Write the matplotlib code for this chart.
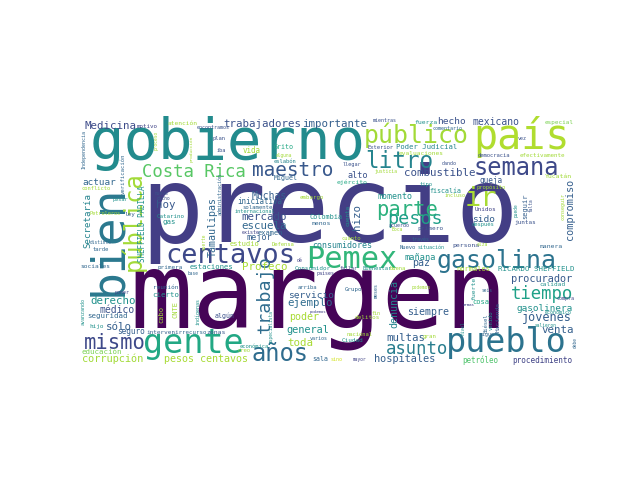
import matplotlib
matplotlib.use("Agg")
import matplotlib.pyplot as plt

# word cloud of a text corpus: words and their relative weights (largest = 1)
words = [
    "precio", "margen", "gobierno", "país", "bien", "pueblo", "gente", "público",
    "gasolina", "Pemex", "centavos", "años", "semana", "pública", "litro", "ir",
    "parte", "maestro", "mismo", "pesos", "trabajo", "Costa Rica", "asunto", "tiempo",
    "jóvenes", "Medicina", "hoy", "importante", "sólo", "toda", "combustible", "mercado",
    "escuela", "multas", "venta", "hizo", "trabajadores", "derecho", "ejemplo", "Profeco",
    "procurador", "hospitales", "corrupción", "compromiso", "general", "paz", "denuncia",
    "Tamaulipas", "poder", "siempre", "pesos centavos", "mexicano", "médico", "Muchas",
    "sido", "servicio", "hecho", "gasolinera", "Secretaría", "actuar", "mañana", "alto",
    "mejor", "momento", "consumidores", "queja", "seguro", "procedimiento",
    "SHEFFIELD PADILLA", "iniciativa", "vida", "petróleo", "RICARDO SHEFFIELD", "gas",
    "seguridad", "educación", "cierto", "estaciones", "Poder Judicial", "normales",
    "examen", "CNTE", "cabo", "seguir", "Colombia", "Grito", "Miguel", "ejército",
    "fiscalía", "algún", "hijo", "zonas", "cosa", "Yucatán", "fuerza", "atención",
    "menos", "manera", "persona", "Hacienda", "fuerte", "calidad", "ley", "sociales",
    "efectivamente", "evaluaciones", "especial", "primero", "sala", "intervenir",
    "Unidos", "juntas", "primera", "reunión", "Ciudad", "Consumidor", "Catarino",
    "embargo", "motivo", "Grupo", "recurso", "delitos", "verificación", "tipo", "eslabón",
    "propósito", "cuenta", "solamente", "plan", "Defensa", "gran",
    "cuánto", "conflicto", "tarde", "después", "Bienestar", "buena", "arriba",
    "económica", "creo", "nacional", "Nuevo", "diésel", "venido", "Exterior",
    "democracia", "Independencia", "Petroleros", "pesar", "internacional", "iba",
    "existe", "comentario", "encontramos", "mientras", "llegar", "dando", "vez",
    "justicia", "alza", "través", "fallar", "países", "dé", "fin", "estudio",
    "incluso", "alguna", "Boca", "acuerdo", "situación", "podemos", "compra",
    "económico", "seis", "armas", "salieron", "sigue", "varios", "sino", "mayor",
    "poner", "nueva", "dicho", "producción", "proceso", "administración", "suerte",
    "indígenas", "avanzando", "especialista", "meses", "nivel", "puede", "falta",
    "conseguir", "debe", "podamos", "base", "distinto",
]
weights = [
    0.97, 0.97, 0.53, 0.37, 0.43, 0.31, 0.31, 0.23,
    0.23, 0.28, 0.25, 0.22, 0.22, 0.22, 0.21, 0.25,
    0.19, 0.18, 0.19, 0.17, 0.17, 0.16, 0.16, 0.16,
    0.11, 0.10, 0.10, 0.10, 0.10, 0.10, 0.10, 0.10,
    0.10, 0.10, 0.10, 0.10, 0.10, 0.10, 0.10, 0.10,
    0.095, 0.095, 0.095, 0.095, 0.095, 0.093, 0.093,
    0.093, 0.093, 0.093, 0.093, 0.09, 0.09, 0.09,
    0.088, 0.088, 0.088, 0.087, 0.085, 0.086, 0.08, 0.079,
    0.079, 0.078, 0.078, 0.072, 0.072, 0.071,
    0.07, 0.07, 0.07, 0.07, 0.068, 0.068,
    0.068, 0.068, 0.068, 0.067, 0.067, 0.065,
    0.065, 0.065, 0.065, 0.065, 0.064, 0.062, 0.062, 0.06,
    0.061, 0.061, 0.056, 0.06, 0.065, 0.06, 0.059, 0.058,
    0.06, 0.059, 0.06, 0.058, 0.059, 0.057, 0.056, 0.058,
    0.055, 0.058, 0.056, 0.057, 0.062, 0.056,
    0.056, 0.056, 0.056, 0.056, 0.056, 0.056, 0.054,
    0.053, 0.054, 0.054, 0.053, 0.056, 0.052, 0.051, 0.051,
    0.051, 0.054, 0.052, 0.051, 0.051, 0.053,
    0.051, 0.05, 0.051, 0.051, 0.051, 0.051, 0.051,
    0.051, 0.051, 0.051, 0.051, 0.051, 0.051, 0.051,
    0.051, 0.047, 0.049, 0.049, 0.049, 0.049, 0.046,
    0.046, 0.047, 0.046, 0.048, 0.046, 0.046, 0.045,
    0.044, 0.046, 0.046, 0.046, 0.046, 0.046, 0.065, 0.046,
    0.042, 0.044, 0.046, 0.046, 0.042, 0.046,
    0.046, 0.042, 0.037, 0.042, 0.046, 0.046, 0.046, 0.042,
    0.046, 0.042, 0.042, 0.04, 0.042, 0.046, 0.042, 0.046,
    0.046, 0.042, 0.046, 0.042, 0.042, 0.042, 0.046,
    0.042, 0.037, 0.042, 0.042, 0.046,
]

# layout of the cloud in pixels of the 640x480 canvas:
# word -> (x, y, vertical, colour position on viridis)
# horizontal words: x = left edge, y = baseline
# vertical words (read bottom to top): x = baseline, y = lower end
layout = {
    "precio": (145, 242, 0, 0.18), "margen": (135, 327, 0, 0.01),
    "gobierno": (92, 159, 0, 0.48), "país": (475, 149, 0, 0.88),
    "bien": (121, 294, 1, 0.40), "pueblo": (448, 352, 0, 0.38),
    "gente": (145, 353, 0, 0.60), "público": (365, 143, 0, 0.86),
    "gasolina": (438, 268, 0, 0.38), "Pemex": (308, 268, 0, 0.66),
    "centavos": (167, 263, 0, 0.22), "años": (253, 361, 0, 0.35),
    "semana": (475, 175, 0, 0.22), "pública": (141, 270, 1, 0.86),
    "litro": (366, 168, 0, 0.45), "ir": (466, 206, 0, 0.87),
    "parte": (377, 216, 0, 0.64), "maestro": (253, 176, 0, 0.27),
    "mismo": (85, 349, 0, 0.22), "pesos": (388, 224, 0, 0.56),
    "trabajo": (270, 332, 1, 0.35), "Costa Rica": (143, 177, 0, 0.74),
    "asunto": (387, 354, 0, 0.42), "tiempo": (512, 299, 0, 0.57),
    "jóvenes": (523, 321, 0, 0.30), "Medicina": (85, 129, 0, 0.23),
    "hoy": (157, 208, 0, 0.27), "importante": (303, 127, 0, 0.30),
    "sólo": (106, 330, 0, 0.30), "toda": (288, 346, 0, 0.87),
    "combustible": (405, 176, 0, 0.25), "mercado": (242, 220, 0, 0.25),
    "escuela": (242, 229, 0, 0.33), "multas": (387, 341, 0, 0.30),
    "venta": (542, 333, 0, 0.30), "hizo": (360, 229, 1, 0.30),
    "trabajadores": (224, 127, 0, 0.25), "derecho": (91, 304, 0, 0.50),
    "ejemplo": (288, 306, 0, 0.35), "Profeco": (243, 270, 0, 0.87),
    "procurador": (512, 282, 0, 0.28), "hospitales": (375, 362, 0, 0.30),
    "corrupción": (83, 362, 0, 0.86), "compromiso": (573, 239, 1, 0.30),
    "general": (287, 333, 0, 0.50), "paz": (413, 266, 0, 0.30),
    "denuncia": (397, 327, 1, 0.45), "Tamaulipas": (216, 256, 1, 0.33),
    "poder": (290, 320, 0, 0.87), "siempre": (408, 315, 0, 0.30),
    "pesos centavos": (165, 362, 0, 0.87), "mexicano": (473, 125, 0, 0.25),
    "médico": (100, 313, 0, 0.25), "Muchas": (252, 199, 0, 0.30),
    "sido": (472, 222, 0, 0.30), "servicio": (288, 298, 0, 0.30),
    "hecho": (438, 124, 0, 0.25), "gasolinera": (517, 311, 0, 0.50),
    "Secretaría": (90, 248, 1, 0.45), "actuar": (83, 185, 0, 0.33),
    "mañana": (405, 260, 0, 0.50), "alto": (348, 178, 0, 0.25),
    "mejor": (247, 240, 0, 0.30), "momento": (378, 199, 0, 0.50),
    "consumidores": (313, 248, 0, 0.45), "queja": (480, 183, 0, 0.27),
    "seguro": (118, 334, 0, 0.30), "procedimiento": (513, 363, 0, 0.20),
    "SHEFFIELD PADILLA": (145, 262, 1, 0.50), "iniciativa": (238, 204, 0, 0.33),
    "vida": (243, 153, 0, 0.86), "petróleo": (463, 363, 0, 0.72),
    "RICARDO SHEFFIELD": (498, 271, 0, 0.50), "gas": (163, 224, 0, 0.50),
    "seguridad": (88, 318, 0, 0.33), "educación": (82, 354, 0, 0.80),
    "cierto": (153, 297, 0, 0.50), "estaciones": (190, 269, 0, 0.50),
    "Poder Judicial": (396, 149, 0, 0.45), "normales": (457, 271, 0, 0.87),
    "examen": (258, 235, 0, 0.33), "CNTE": (178, 318, 1, 0.86),
    "cabo": (163, 323, 1, 0.86), "seguir": (527, 219, 1, 0.30),
    "Colombia": (310, 219, 0, 0.50), "Grito": (274, 149, 0, 0.60),
    "Miguel": (274, 180, 0, 0.33), "ejército": (337, 184, 0, 0.60),
    "fiscalía": (430, 193, 0, 0.50), "algún": (215, 318, 0, 0.25),
    "hijo": (90, 328, 0, 0.50), "zonas": (207, 334, 0, 0.27),
    "cosa": (473, 304, 0, 0.60), "Yucatán": (545, 178, 0, 0.86),
    "fuerza": (415, 124, 0, 0.50), "atención": (168, 125, 0, 0.86),
    "menos": (312, 225, 0, 0.33), "manera": (540, 248, 0, 0.33),
    "persona": (453, 247, 0, 0.25), "Hacienda": (500, 332, 1, 0.30),
    "fuerte": (475, 300, 1, 0.50), "calidad": (540, 286, 0, 0.50),
    "ley": (125, 216, 0, 0.30), "sociales": (81, 268, 0, 0.33),
    "efectivamente": (520, 157, 0, 0.86), "evaluaciones": (399, 155, 0, 0.86),
    "especial": (545, 124, 0, 0.80), "primero": (418, 230, 0, 0.25),
    "sala": (313, 361, 0, 0.33), "intervenir": (147, 334, 0, 0.30),
    "Unidos": (475, 211, 0, 0.20), "juntas": (515, 224, 0, 0.25),
    "primera": (158, 269, 0, 0.33), "reunión": (153, 289, 0, 0.33),
    "Ciudad": (342, 342, 0, 0.50), "Consumidor": (295, 270, 0, 0.50),
    "Catarino": (157, 218, 0, 0.50), "embargo": (300, 199, 0, 0.86),
    "motivo": (137, 128, 0, 0.20), "Grupo": (345, 291, 0, 0.33),
    "recurso": (182, 334, 0, 0.33), "delitos": (355, 319, 0, 0.86),
    "verificación": (125, 194, 1, 0.33), "tipo": (420, 186, 0, 0.50),
    "eslabón": (274, 163, 0, 0.45), "propósito": (477, 189, 0, 0.86),
    "cuenta": (350, 226, 1, 0.50),
    "solamente": (243, 209, 0, 0.33), "plan": (213, 140, 0, 0.25),
    "Defensa": (272, 246, 0, 0.86), "gran": (423, 338, 0, 0.86),
    "cuánto": (342, 240, 0, 0.86), "conflicto": (82, 190, 0, 0.86),
    "tarde": (93, 251, 0, 0.33), "después": (472, 226, 0, 0.50),
    "Bienestar": (363, 270, 0, 0.50), "buena": (390, 270, 0, 0.86),
    "arriba": (298, 289, 0, 0.33), "económica": (240, 348, 0, 0.50),
    "creo": (238, 352, 0, 0.86), "nacional": (347, 336, 0, 0.86),
    "Nuevo": (400, 249, 0, 0.33), "diésel": (488, 333, 1, 0.33),
    "venido": (493, 330, 1, 0.50), "Exterior": (368, 149, 0, 0.25),
    "democracia": (478, 157, 0, 0.25), "Independencia": (86, 169, 1, 0.33),
    "Petroleros": (90, 215, 0, 0.86), "pesar": (113, 201, 0, 0.50),
    "internacional": (235, 213, 0, 0.50), "iba": (217, 152, 0, 0.25),
    "existe": (242, 234, 0, 0.20), "comentario": (433, 130, 0, 0.33),
    "encontramos": (197, 129, 0, 0.25), "mientras": (373, 122, 0, 0.25),
    "llegar": (343, 166, 0, 0.25), "dando": (442, 165, 0, 0.25),
    "vez": (518, 140, 0, 0.25), "justicia": (375, 173, 0, 0.86),
    "alza": (477, 246, 0, 0.86), "través": (412, 241, 0, 0.33),
    "fallar": (340, 270, 0, 0.20), "países": (317, 275, 0, 0.20),
    "dé": (297, 262, 0, 0.20), "fin": (372, 315, 0, 0.86),
    "estudio": (230, 246, 0, 0.86), "incluso": (445, 197, 0, 0.86),
    "alguna": (276, 157, 0, 0.86), "Boca": (392, 231, 0, 0.86),
    "acuerdo": (389, 227, 0, 0.25), "situación": (418, 249, 0, 0.50),
    "podemos": (412, 289, 0, 0.86), "compra": (557, 300, 0, 0.20),
    "económico": (545, 314, 0, 0.50), "seis": (482, 292, 0, 0.33),
    "armas": (463, 306, 0, 0.20), "salieron": (535, 327, 0, 0.50),
    "sigue": (480, 336, 0, 0.33), "varios": (310, 340, 0, 0.33),
    "sino": (331, 361, 0, 0.93), "mayor": (353, 361, 0, 0.20),
    "poner": (115, 294, 0, 0.20), "nueva": (155, 195, 0, 0.25),
    "dicho": (157, 200, 0, 0.25), "producción": (193, 162, 1, 0.86),
    "proceso": (158, 150, 1, 0.86), "administración": (222, 215, 1, 0.33),
    "suerte": (205, 250, 1, 0.86), "indígenas": (200, 325, 1, 0.50),
    "avanzando": (85, 325, 1, 0.50), "especialista": (273, 343, 1, 0.50),
    "meses": (378, 298, 1, 0.33), "nivel": (465, 335, 1, 0.50),
    "puede": (518, 217, 1, 0.50), "falta": (533, 212, 1, 0.25),
    "conseguir": (565, 220, 1, 0.86), "debe": (577, 348, 1, 0.33),
    "podamos": (310, 313, 0, 0.20), "base": (188, 275, 0, 0.33),
    "distinto": (90, 244, 0, 0.33),
}

MAX_EM = 108  # em size in pixels of a word with weight 1
cmap = plt.get_cmap("viridis")

fig = plt.figure(figsize=(6.4, 4.8), dpi=100)
ax = fig.add_axes([0, 0, 1, 1])
ax.set_xlim(0, 640)
ax.set_ylim(480, 0)
ax.axis("off")

for w, f in zip(words, weights):
    x, y, vert, c = layout[w]
    em = f * MAX_EM
    if vert:
        ax.text(x, y + 0.05 * em, w, fontsize=em * 0.72, rotation=90,
                rotation_mode="anchor", ha="left", va="baseline",
                family="DejaVu Sans Mono", color=cmap(c))
    else:
        ax.text(x - 0.05 * em, y, w, fontsize=em * 0.72,
                ha="left", va="baseline",
                family="DejaVu Sans Mono", color=cmap(c))

fig.savefig("out.png", dpi=100, facecolor="white")
